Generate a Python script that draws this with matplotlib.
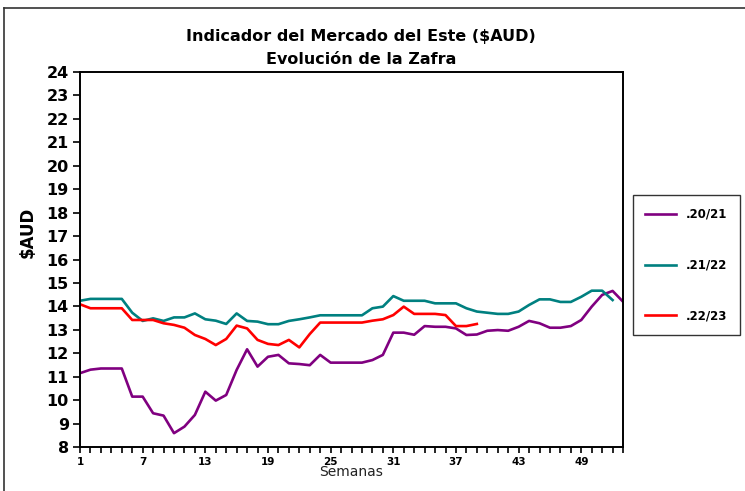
import numpy as np
import matplotlib
matplotlib.use('Agg')
import matplotlib.pyplot as plt
from matplotlib.ticker import MultipleLocator
from matplotlib.lines import Line2D

weeks_2021 = list(range(1, 54))
vals_2021 = [11.15, 11.3, 11.35, 11.35, 11.35, 10.15, 10.15, 9.44, 9.34, 8.59,
             8.87, 9.37, 10.36, 9.98, 10.22, 11.29, 12.17, 11.43, 11.85, 11.93,
             11.57, 11.54, 11.49, 11.93, 11.6, 11.6, 11.6, 11.6, 11.71, 11.93,
             12.88, 12.88, 12.79, 13.16, 13.13, 13.13, 13.06, 12.78, 12.8, 12.96,
             12.99, 12.96, 13.13, 13.38, 13.28, 13.09, 13.09, 13.16, 13.42, 13.99,
             14.49, 14.66, 14.2]

weeks_2122 = list(range(1, 53))
vals_2122 = [14.24, 14.32, 14.32, 14.32, 14.32, 13.73, 13.38, 13.49, 13.38, 13.53,
             13.53, 13.7, 13.45, 13.39, 13.25, 13.7, 13.38, 13.35, 13.24, 13.24,
             13.38, 13.45, 13.53, 13.62, 13.62, 13.62, 13.62, 13.62, 13.92, 13.99,
             14.44, 14.24, 14.24, 14.24, 14.13, 14.13, 14.13, 13.92, 13.78, 13.73,
             13.68, 13.68, 13.78, 14.06, 14.3, 14.3, 14.19, 14.19, 14.41, 14.67,
             14.67, 14.27]

weeks_2223 = list(range(1, 40))
vals_2223 = [14.09, 13.92, 13.92, 13.92, 13.92, 13.42, 13.42, 13.42, 13.28, 13.21,
             13.09, 12.78, 12.61, 12.35, 12.61, 13.18, 13.06, 12.57, 12.4, 12.35,
             12.57, 12.25, 12.82, 13.31, 13.31, 13.31, 13.31, 13.31, 13.39, 13.45,
             13.63, 13.99, 13.68, 13.68, 13.68, 13.63, 13.16, 13.16, 13.25]

labels = ['.20/21', '.21/22', '.22/23']
colors = ['#800080', '#008080', '#ff0000']

fig = plt.figure(figsize=(7.45, 4.91), dpi=100)
ax = fig.add_axes([0.1074, 0.0896, 0.7289, 0.7637])

ax.plot(weeks_2021, vals_2021, color=colors[0], lw=1.9)
ax.plot(weeks_2122, vals_2122, color=colors[1], lw=1.9)
ax.plot(weeks_2223, vals_2223, color=colors[2], lw=1.9)

ax.set_xlim(1, 53)
ax.set_ylim(8, 24)
ax.xaxis.set_minor_locator(MultipleLocator(1))
ax.set_xticks(range(1, 54, 6))
ax.yaxis.set_major_locator(MultipleLocator(1))
ax.tick_params(axis='y', direction='out', length=5, width=1.2, labelsize=11.5, pad=3)
ax.tick_params(axis='x', which='both', direction='out', length=4, width=1.2, labelsize=7.5, pad=3)
for t in ax.get_yticklabels() + ax.get_xticklabels():
    t.set_fontweight('bold')
for s in ax.spines.values():
    s.set_linewidth(1.4)

ax.set_xlabel('Semanas', fontsize=10, labelpad=-1, color='#222222')
fig.text(0.037, 0.527, '$AUD', rotation=90, fontsize=12, fontweight='bold',
         ha='center', va='center')

fig.text(0.485, 0.925, 'Indicador del Mercado del Este ($AUD)', ha='center', va='center',
         fontsize=11.5, fontweight='bold')
fig.text(0.485, 0.878, 'Evolución de la Zafra', ha='center', va='center',
         fontsize=11.5, fontweight='bold')

handles = [Line2D([0], [0], color=c, lw=1.9) for c in colors]
leg = fig.legend(handles, labels, loc='upper left', bbox_to_anchor=(0.849, 0.603),
                 borderaxespad=0, frameon=True, fancybox=False, edgecolor='black',
                 handlelength=2.6, labelspacing=3.2, borderpad=1.1,
                 prop={'weight': 'bold', 'size': 8.5})
leg.get_frame().set_linewidth(1.0)

# outer chart frame
fig.add_artist(Line2D([0.005, 0.005], [0.0, 0.983], color='#333333', lw=1.2))
fig.add_artist(Line2D([0.005, 1.0], [0.983, 0.983], color='#333333', lw=1.2))

fig.savefig('out.png', dpi=100)
